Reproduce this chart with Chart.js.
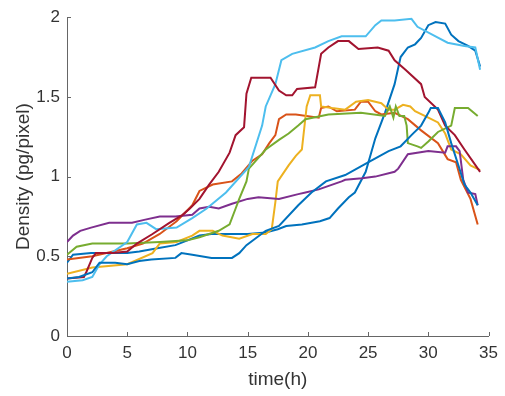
<!DOCTYPE html>
<html>
<head>
<meta charset="utf-8">
<script src="https://cdn.jsdelivr.net/npm/chart.js@4.4.1/dist/chart.umd.min.js"></script>
<style>
  html, body { margin: 0; padding: 0; background: #ffffff; }
  #wrap { width: 505px; height: 396px; }
</style>
</head>
<body>
<div id="wrap"><canvas id="c" width="505" height="396"></canvas></div>
<script>
// ---- data ----
const xTicks = [0, 5, 10, 15, 20, 25, 30, 35];
const yTicks = [0, 0.5, 1, 1.5, 2];
const xTitle = "time(h)";
const yTitle = "Density (pg/pixel)";

const blueA_t = [0,0.5,2,5,6,7.5,9,10,11,12,15,16.5,17.5,18.2,19.5,21,21.8,22.5,23.4,23.9,24.8,25.6,26.4,27.2,27.7,28.3,28.9,29.4,30,30.6,31.4,31.9,32.5,33.3,33.9,34.1,34.3];
const blueA_y = [0.46,0.51,0.52,0.52,0.53,0.55,0.57,0.60,0.63,0.64,0.64,0.65,0.67,0.69,0.70,0.72,0.74,0.80,0.87,0.90,1.03,1.24,1.40,1.58,1.75,1.81,1.83,1.87,1.95,1.97,1.96,1.89,1.85,1.82,1.79,1.74,1.69];

const orange_t = [0,2.1,5,6.3,7.7,9.1,10.4,11,12.1,13.7,14.5,15.4,16.2,16.8,17.3,17.6,18.2,19,20.9,21.1,21.7,22.4,23.9,24.4,25,25.6,26.1,27.2,28.3,29.4,30.8,31.6,32.3,32.7,33.5,34.1];
const orange_y = [0.48,0.50,0.55,0.58,0.64,0.72,0.82,0.91,0.95,0.97,1.02,1.10,1.14,1.21,1.26,1.36,1.39,1.39,1.37,1.43,1.44,1.41,1.42,1.47,1.47,1.41,1.39,1.40,1.36,1.29,1.21,1.11,1.09,0.98,0.86,0.70];

const yellow_t = [0,2.1,5,7.1,7.7,9.1,10.4,11,12.1,12.9,14.3,15.4,16.5,17,17.3,17.5,18.4,19,19.5,19.9,20.2,21,21.1,22,23.1,24,25,26.1,26.7,27.2,27.9,28.5,28.9,30,30.8,31.4,31.9,32.7,33.5,34.3];
const yellow_y = [0.39,0.43,0.45,0.52,0.58,0.59,0.63,0.66,0.66,0.63,0.61,0.64,0.64,0.67,0.84,0.97,1.07,1.13,1.17,1.44,1.51,1.51,1.44,1.43,1.42,1.47,1.48,1.46,1.42,1.42,1.45,1.44,1.41,1.37,1.34,1.27,1.17,1.14,1.07,1.04];

const purple_t = [0,0.5,1.1,2,3.5,5.4,6.5,7.7,9,10.4,11,11.8,12.6,13.7,15,15.9,17.6,19.2,19.8,20.9,22.8,23.1,24.5,25.6,27.2,27.5,28.3,30,31.4,31.6,32.3,32.6,32.9,33.3,33.9,34.1];
const purple_y = [0.59,0.63,0.66,0.68,0.71,0.71,0.73,0.75,0.75,0.76,0.80,0.81,0.80,0.83,0.86,0.87,0.86,0.89,0.90,0.92,0.97,0.98,0.99,1.00,1.03,1.05,1.14,1.16,1.15,1.19,1.19,1.16,0.98,0.90,0.89,0.82];

const green_t = [0,0.8,2.1,3.5,5,7.7,10,11,11.8,12.6,13.5,14,14.3,14.9,15.1,16.5,17.6,18.4,19.2,19.8,21.7,24.4,26.4,26.8,27.1,27.3,27.6,28,28.2,28.3,29.1,29.4,30,30.8,31.9,32.2,33.3,34.1];
const green_y = [0.51,0.56,0.58,0.58,0.58,0.59,0.60,0.62,0.64,0.66,0.70,0.80,0.86,0.97,1.05,1.17,1.23,1.27,1.32,1.36,1.39,1.40,1.38,1.44,1.37,1.44,1.38,1.38,1.32,1.21,1.19,1.18,1.22,1.28,1.32,1.43,1.43,1.38];

const lightBlue_t = [0,1.3,2.1,2.7,3.3,5,5.8,6.6,7.4,9.1,10.4,11.6,13.2,15.1,16.2,16.5,17.3,17.8,18.7,20.6,21.7,22.8,24.8,25.6,26.1,27.2,28.6,29.1,30.6,31.6,33,33.9,34.3];
const lightBlue_y = [0.34,0.35,0.37,0.45,0.50,0.59,0.70,0.71,0.67,0.68,0.74,0.80,0.90,1.06,1.32,1.44,1.58,1.73,1.77,1.81,1.85,1.88,1.88,1.95,1.98,1.98,1.99,1.94,1.88,1.84,1.82,1.81,1.67];

const darkRed_t = [0,1.4,1.6,2.1,2.4,3.8,5,5.8,7.1,8.5,9.6,10.2,11,11.8,12.6,13.5,14,14.7,14.9,15.3,16.9,17.6,18.2,18.7,19.1,20.6,21.1,21.7,22.5,23.4,24.2,25.8,26.7,27.2,28.1,29.4,29.7,30.8,31.4,32.2,33,34.3];
const darkRed_y = [0.36,0.37,0.40,0.49,0.52,0.52,0.53,0.58,0.64,0.71,0.76,0.80,0.86,0.95,1.03,1.15,1.26,1.31,1.52,1.62,1.62,1.54,1.51,1.51,1.55,1.56,1.77,1.81,1.85,1.85,1.80,1.81,1.79,1.73,1.67,1.58,1.50,1.42,1.32,1.26,1.17,1.03];

const blueB_t = [0,1,2.1,2.7,4,5,6,7,9,9.5,10.4,12,13.7,14.3,14.9,16.5,17.6,19.2,20.3,21.5,23.1,25,26.7,27.7,28.6,29.4,30,30.2,30.8,31.4,31.9,32.5,33,33.5,34.1];
const blueB_y = [0.36,0.37,0.40,0.46,0.46,0.45,0.47,0.48,0.49,0.52,0.51,0.49,0.49,0.52,0.57,0.66,0.69,0.82,0.90,0.97,1.01,1.09,1.16,1.19,1.26,1.32,1.40,1.43,1.43,1.34,1.21,1.07,0.95,0.90,0.82];

// ---- build ----
function pts(t, y) { return t.map((v, i) => ({ x: v, y: y[i] })); }
const series = [
  { d: pts(blueA_t, blueA_y), c: '#0072BD' },
  { d: pts(orange_t, orange_y), c: '#D95319' },
  { d: pts(yellow_t, yellow_y), c: '#EDB120' },
  { d: pts(purple_t, purple_y), c: '#7E2F8E' },
  { d: pts(green_t, green_y), c: '#77AC30' },
  { d: pts(lightBlue_t, lightBlue_y), c: '#4DBEEE' },
  { d: pts(darkRed_t, darkRed_y), c: '#A2142F' },
  { d: pts(blueB_t, blueB_y), c: '#0072BD' }
];
const N = series.length;
const datasets = series.map((s, i) => ({
  data: s.d, borderColor: s.c, backgroundColor: s.c,
  borderWidth: 2, pointRadius: 0, tension: 0, fill: false, order: N - i
}));

const FONT = "'Liberation Sans', Arial, Helvetica, sans-serif";
const AX = '#666666';
const TXT = '#333333';

const inwardTicks = {
  id: 'inwardTicks',
  afterDraw(chart) {
    const ctx = chart.ctx, a = chart.chartArea;
    const xs = chart.scales.x, ys = chart.scales.y;
    ctx.save();
    ctx.strokeStyle = AX; ctx.lineWidth = 1;
    ctx.beginPath();
    xTicks.forEach(v => { const p = Math.round(xs.getPixelForValue(v)) + 0.5; ctx.moveTo(p, a.bottom); ctx.lineTo(p, a.bottom - 4); });
    yTicks.forEach(v => { const p = Math.round(ys.getPixelForValue(v)) + 0.5; ctx.moveTo(a.left, p); ctx.lineTo(a.left + 4, p); });
    ctx.stroke();
    ctx.restore();
  }
};

new Chart(document.getElementById('c'), {
  type: 'line',
  data: { datasets },
  options: {
    responsive: false, animation: false, events: [],
    layout: { padding: { top: 13, right: 14, left: 0, bottom: 0 } },
    plugins: { legend: { display: false }, tooltip: { enabled: false } },
    scales: {
      x: {
        type: 'linear', min: 0, max: 35,
        afterBuildTicks(s) { s.ticks = xTicks.map(v => ({ value: v })); },
        afterFit(s) { s.height = 60; },
        grid: { drawOnChartArea: false, drawTicks: false },
        border: { display: true, color: AX, width: 1 },
        ticks: { color: TXT, font: { family: FONT, size: 17 }, padding: 7, maxRotation: 0, autoSkip: false },
        title: { display: true, text: xTitle, color: TXT, font: { family: FONT, size: 19 }, padding: { top: 0, bottom: 5 } }
      },
      y: {
        type: 'linear', min: 0, max: 2,
        afterBuildTicks(s) { s.ticks = yTicks.map(v => ({ value: v })); },
        afterFit(s) { s.width = 67; },
        grid: { drawOnChartArea: false, drawTicks: false },
        border: { display: true, color: AX, width: 1 },
        ticks: { color: TXT, font: { family: FONT, size: 17 }, padding: 7, autoSkip: false,
                 callback: v => String(v) },
        title: { display: true, text: yTitle, color: TXT, font: { family: FONT, size: 19 }, padding: { top: 12, bottom: 0 } }
      }
    }
  },
  plugins: [inwardTicks]
});
</script>
</body>
</html>
